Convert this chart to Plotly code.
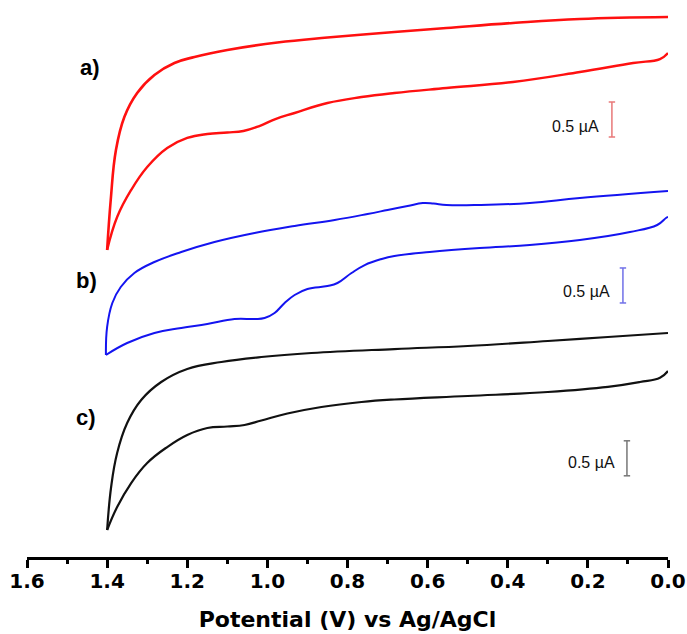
import plotly.graph_objects as go

# ---- data: potential (V) and current (µA, stacked offsets) ----
red_up_v = [0.00, 0.22, 0.387, 0.553, 0.683, 0.85, 0.975, 1.10, 1.182, 1.232, 1.282, 1.325, 1.357, 1.378, 1.391, 1.40]
red_up_i = [7.714, 7.686, 7.629, 7.557, 7.500, 7.421, 7.350, 7.243, 7.143, 7.057, 6.886, 6.629, 6.286, 5.814, 5.10, 4.386]
red_lo_v = [1.40, 1.375, 1.34, 1.30, 1.25, 1.20, 1.15, 1.10, 1.06, 1.02, 0.98, 0.932, 0.85, 0.765, 0.683, 0.553, 0.387, 0.22, 0.087, 0.02, 0.0]
red_lo_i = [4.386, 4.857, 5.243, 5.571, 5.843, 5.986, 6.043, 6.064, 6.086, 6.157, 6.257, 6.343, 6.486, 6.571, 6.629, 6.70, 6.786, 6.929, 7.057, 7.114, 7.20]

blue_up_v = [0.0, 0.22, 0.345, 0.47, 0.553, 0.585, 0.612, 0.65, 0.70, 0.75, 0.832, 0.932, 1.032, 1.132, 1.215, 1.282, 1.332, 1.366, 1.387, 1.40, 1.403]
blue_up_i = [5.229, 5.129, 5.057, 5.029, 5.029, 5.050, 5.057, 5.014, 4.957, 4.900, 4.814, 4.729, 4.629, 4.50, 4.357, 4.214, 4.057, 3.857, 3.629, 3.286, 2.886]
blue_lo_v = [1.403, 1.35, 1.282, 1.215, 1.15, 1.082, 1.032, 1.007, 0.982, 0.957, 0.932, 0.90, 0.85, 0.825, 0.79, 0.757, 0.715, 0.683, 0.595, 0.47, 0.345, 0.22, 0.095, 0.027, 0.005, 0.0]
blue_lo_i = [2.886, 3.057, 3.20, 3.271, 3.329, 3.40, 3.40, 3.414, 3.486, 3.629, 3.743, 3.829, 3.871, 3.914, 4.057, 4.171, 4.257, 4.30, 4.357, 4.414, 4.457, 4.529, 4.643, 4.743, 4.843, 4.857]

black_up_v = [0.0, 0.15, 0.3, 0.5, 0.683, 0.89, 1.015, 1.115, 1.20, 1.265, 1.315, 1.35, 1.375, 1.39, 1.40]
black_up_i = [3.20, 3.143, 3.086, 3.014, 2.971, 2.914, 2.857, 2.786, 2.686, 2.50, 2.243, 1.914, 1.486, 1.00, 0.386]
black_lo_v = [1.40, 1.375, 1.34, 1.30, 1.25, 1.20, 1.15, 1.10, 1.057, 1.015, 0.95, 0.865, 0.765, 0.683, 0.5, 0.3, 0.15, 0.07, 0.02, 0.0]
black_lo_i = [0.386, 0.714, 1.057, 1.343, 1.571, 1.743, 1.843, 1.864, 1.886, 1.950, 2.050, 2.143, 2.214, 2.250, 2.300, 2.357, 2.430, 2.500, 2.560, 2.657]

curve_labels = ["a)", "b)", "c)"]
scale_text = "0.5 µA"
scale_size = 0.5  # µA
tick_vals = [1.6, 1.4, 1.2, 1.0, 0.8, 0.6, 0.4, 0.2, 0.0]
tick_text = ["1.6", "1.4", "1.2", "1.0", "0.8", "0.6", "0.4", "0.2", "0.0"]

RED, BLUE, BLACK = "#ff1010", "#1414f0", "#111111"
FONT = "Liberation Sans, Arial"
AXFONT = "DejaVu Sans"

fig = go.Figure()
for v, i, c, w in [
    (red_up_v, red_up_i, RED, 2.6), (red_lo_v, red_lo_i, RED, 2.4),
    (blue_up_v, blue_up_i, BLUE, 2.0), (blue_lo_v, blue_lo_i, BLUE, 2.0),
    (black_up_v, black_up_i, BLACK, 2.2), (black_lo_v, black_lo_i, BLACK, 2.2),
]:
    fig.add_trace(go.Scatter(x=v, y=i, mode="lines",
                             line=dict(color=c, width=w, shape="spline", smoothing=1.2),
                             showlegend=False, hoverinfo="skip"))

# curve labels
for lab, (x, y) in zip(curve_labels, [(1.4425, 7.0), (1.4525, 3.957), (1.4525, 1.986)]):
    fig.add_annotation(x=x, y=y, text=lab, showarrow=False,
                       font=dict(family=FONT, size=22, color="black", weight="bold"))

# scale bars
cap = 0.008
for (bx, by, col), (tx, ty) in zip(
        [(0.14, 6.0, "#e87878"), (0.1125, 3.629, "#7070e8"), (0.1025, 1.16, "#777777")],
        [(0.23, 6.143), (0.2025, 3.786), (0.19, 1.343)]):
    fig.add_shape(type="line", x0=bx, x1=bx, y0=by, y1=by + scale_size, line=dict(color=col, width=1.5))
    for yy in (by, by + scale_size):
        fig.add_shape(type="line", x0=bx - cap, x1=bx + cap, y0=yy, y1=yy, line=dict(color=col, width=1.5))
    fig.add_annotation(x=tx, y=ty, text=scale_text, showarrow=False,
                       font=dict(family=FONT, size=16, color="#111"))

fig.update_layout(
    width=687, height=634,
    margin=dict(l=27, r=19, t=0, b=77),
    paper_bgcolor="white", plot_bgcolor="white",
    xaxis=dict(range=[1.6, 0.0], tickvals=tick_vals, ticktext=tick_text,
               ticks="outside", ticklen=8, tickwidth=2.5, tickcolor="black",
               minor=dict(dtick=0.1, ticks="outside", ticklen=4, tickwidth=2.5, tickcolor="black"),
               showline=True, linewidth=3, linecolor="black",
               showgrid=False, zeroline=False, ticklabelstandoff=-4,
               tickfont=dict(family=AXFONT, size=20, color="black", weight="bold"),
               title=dict(text="Potential (V) vs Ag/AgCl", standoff=20,
                          font=dict(family=AXFONT, size=22, color="black", weight="bold"))),
    yaxis=dict(range=[0, 557 / 70], visible=False),
)

fig.write_html("out.html")
